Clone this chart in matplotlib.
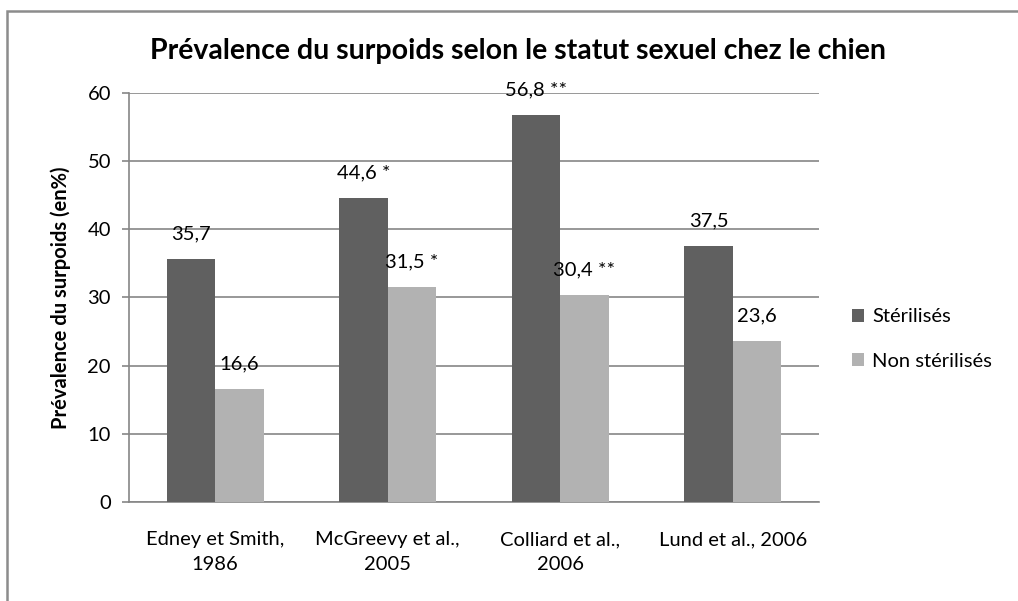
import matplotlib
matplotlib.use('Agg')
import matplotlib.pyplot as plt
import numpy as np
from matplotlib.patches import Rectangle

plt.rcParams['font.family'] = ['Lato', 'DejaVu Sans']

# data
etudes = ['Edney et Smith,\n1986', 'McGreevy et al.,\n2005', 'Colliard et al.,\n2006', 'Lund et al., 2006']
steril = [35.7, 44.6, 56.8, 37.5]
non_steril = [16.6, 31.5, 30.4, 23.6]
lbl_steril = ['35,7', '44,6 *', '56,8 **', '37,5']
lbl_non_steril = ['16,6', '31,5 *', '30,4 **', '23,6']
series_names = ['Stérilisés', 'Non stérilisés']

dark = '#606060'
light = '#b2b2b2'
grid_col = '#868686'
fs = 14.5

fig = plt.figure(figsize=(10.18, 6.01), dpi=100)
ax = fig.add_axes([0.1267, 0.1647, 0.6778, 0.6806])

# outer chart border (top and left visible)
fig.patches.append(Rectangle((7/1018, -0.1), 1.2, 1 - 11/601 + 0.1, transform=fig.transFigure,
                             fill=False, edgecolor='#8c8c8c', linewidth=1.8))

x = np.arange(len(etudes))
width = 0.28
b1 = ax.bar(x - width/2, steril, width, color=dark, label=series_names[0], zorder=3)
b2 = ax.bar(x + width/2, non_steril, width, color=light, label=series_names[1], zorder=3)

for rects, labs in ((b1, lbl_steril), (b2, lbl_non_steril)):
    for rect, lab in zip(rects, labs):
        ax.annotate(lab, xy=(rect.get_x() + rect.get_width()/2, rect.get_height()),
                    xytext=(0, 12), textcoords='offset points',
                    ha='center', va='bottom', fontsize=fs, color='black', zorder=4)

ax.set_xlim(-0.5, 3.5)
ax.set_ylim(0, 60)
ax.set_yticks(range(0, 61, 10))
ax.yaxis.grid(True, color=grid_col, linewidth=1.2, zorder=0)
ax.set_xticks(x)
ax.set_xticklabels(etudes, fontsize=fs, linespacing=1.55)
ax.tick_params(axis='x', length=0, pad=21)
ax.tick_params(axis='y', length=5, width=1.2, color=grid_col, labelsize=fs, pad=8)
for s in ['top', 'right']:
    ax.spines[s].set_visible(False)
for s in ['left', 'bottom']:
    ax.spines[s].set_color(grid_col)
    ax.spines[s].set_linewidth(1.2)

ax.set_ylabel('Prévalence du surpoids (en%)', fontsize=fs, fontweight='bold', labelpad=12)
fig.text(0.509, 0.915, 'Prévalence du surpoids selon le statut sexuel chez le chien',
         ha='center', va='center', fontsize=20.5, fontweight='bold')

fig.legend(handles=[b1, b2], loc='center left', bbox_to_anchor=(834/1018, 1 - 339/601),
           frameon=False, fontsize=fs, handlelength=0.6, handleheight=0.6,
           handletextpad=0.4, labelspacing=1.35)

plt.savefig('out.png', dpi=100)
